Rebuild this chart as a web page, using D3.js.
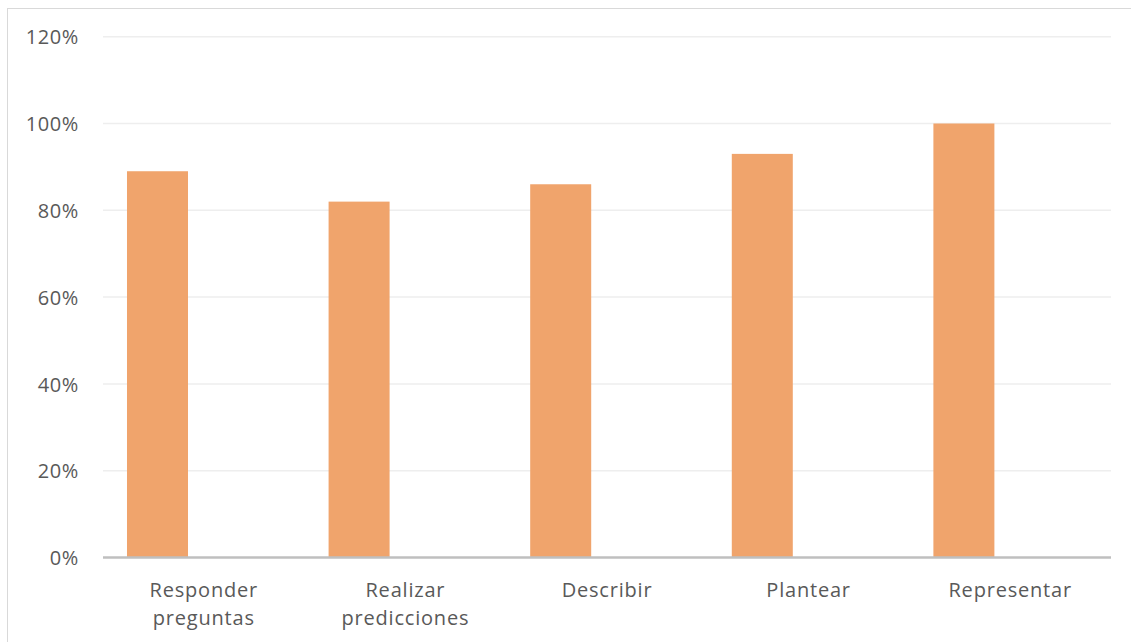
<!DOCTYPE html>
<html>
<head>
<meta charset="utf-8">
<script src="https://cdn.jsdelivr.net/npm/d3@7"></script>
<style>
html,body{margin:0;padding:0;background:#fff;}
svg{display:block;}
text{font-family:"Open Sans",sans-serif;fill:#595959;}
</style>
</head>
<body>
<svg id="chart" width="1131" height="642"></svg>
<script>
const categories = [["Responder","preguntas"],["Realizar","predicciones"],["Describir"],["Plantear"],["Representar"]];
const values = [0.89, 0.82, 0.86, 0.93, 1.00];
const yTicks = [0, 0.2, 0.4, 0.6, 0.8, 1.0, 1.2];

const svg = d3.select("#chart");
const W = 1131, H = 642;
const plot = {left:103, right:1111, top:36.7, bottom:557.5};

// chart border
svg.append("rect").attr("x",7.5).attr("y",8.5).attr("width",W+10).attr("height",H+10)
  .attr("fill","none").attr("stroke","#D9D9D9").attr("stroke-width",1);

const keys = categories.map(c=>c.join(" "));
const x = d3.scaleBand().domain(keys).range([plot.left, plot.right]).padding(0);
const y = d3.scaleLinear().domain([0,1.2]).range([plot.bottom, plot.top]);

// gridlines
svg.append("g").selectAll("line").data(yTicks.filter(t=>t>0)).join("line")
  .attr("x1",plot.left).attr("x2",plot.right)
  .attr("y1",d=>y(d)).attr("y2",d=>y(d))
  .attr("stroke","#EEEEEE").attr("stroke-width",1.5);

// y axis labels
const yAxis = d3.axisLeft(y).tickValues(yTicks).tickFormat(d=>Math.round(d*100)+"%").tickSize(0).tickPadding(0);
const yg = svg.append("g").attr("transform",`translate(79,0)`).call(yAxis);
yg.select(".domain").remove();
yg.selectAll("text").attr("font-size",20).attr("fill","#595959")
  .style("font-family","'Open Sans',sans-serif").attr("letter-spacing","0.6px").attr("dy","0.36em");

// bars
const bw = x.bandwidth();
svg.append("g").selectAll("rect").data(values).join("rect")
  .attr("x",(d,i)=>x(keys[i]) + bw*0.119)
  .attr("width",bw*0.3026)
  .attr("y",d=>y(d))
  .attr("height",d=>y(0)-y(d))
  .attr("fill","#F0A46C");

// x axis line
svg.append("line").attr("x1",plot.left).attr("x2",plot.right)
  .attr("y1",y(0)).attr("y2",y(0)).attr("stroke","#BFBFBF").attr("stroke-width",2.5);

// category labels
const lg = svg.append("g");
categories.forEach((c,i)=>{
  const cx = x(keys[i])+bw/2;
  const t = lg.append("text").attr("x",cx).attr("y",597)
    .attr("text-anchor","middle").attr("font-size",20).attr("letter-spacing","0.8px");
  c.forEach((line,j)=>{
    t.append("tspan").attr("x",cx).attr("dy", j===0?0:27.5).text(line);
  });
});
</script>
</body>
</html>
